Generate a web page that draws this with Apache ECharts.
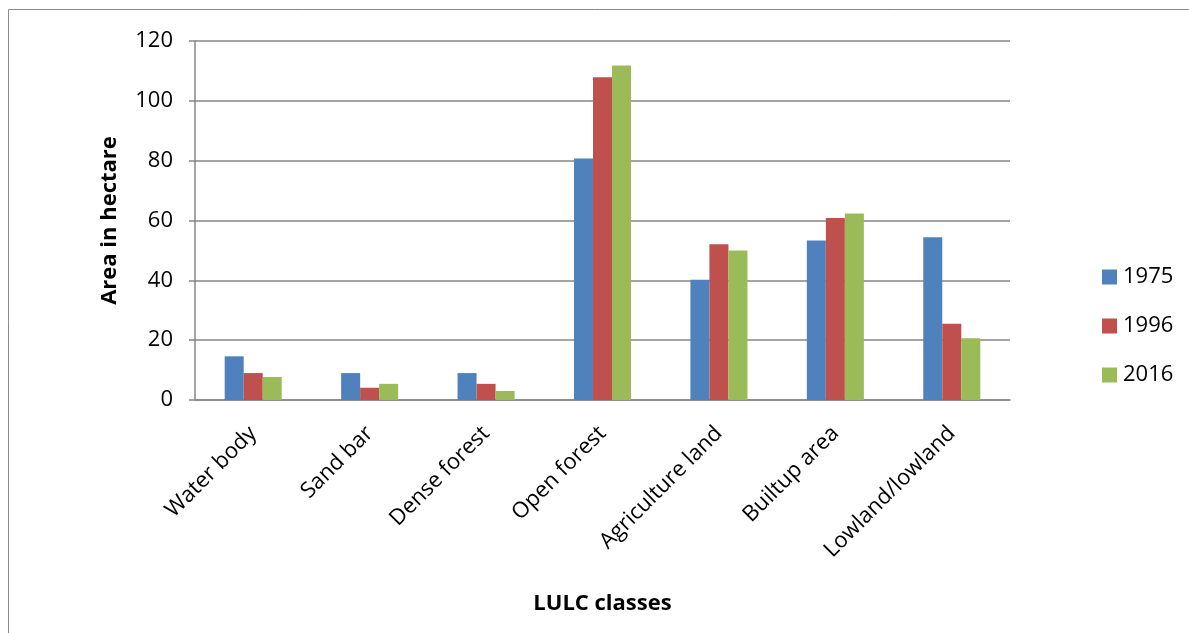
<!DOCTYPE html>
<html>
<head>
<meta charset="utf-8">
<script src="https://cdn.jsdelivr.net/npm/echarts@6/dist/echarts.min.js"></script>
<style>
html,body{margin:0;padding:0;background:#fff;}
#chart{width:1189px;height:633px;}
</style>
</head>
<body>
<div id="chart"></div>
<script>
const categories = ['Water body','Sand bar','Dense forest','Open forest','Agriculture land','Builtup area','Lowland/lowland'];
const seriesNames = ['1975','1996','2016'];
const values1975 = [14.6, 9.0, 9.0, 80.7, 40.2, 53.3, 54.4];
const values1996 = [9.0, 4.1, 5.4, 107.9, 52.1, 60.8, 25.5];
const values2016 = [7.7, 5.4, 3.0, 111.8, 50.0, 62.3, 20.6];
const colors = ['#4F81BD','#C0504D','#9BBB59'];

const font = '"Open Sans", sans-serif';
const chart = echarts.init(document.getElementById('chart'));
const allValues = [values1975, values1996, values2016];
chart.setOption({
  animation: false,
  backgroundColor: '#fff',
  graphic: [{
    type: 'rect',
    shape: {x: 8.5, y: 9.5, width: 1200, height: 700},
    style: {fill: 'none', stroke: '#8a8a8a', lineWidth: 1},
    silent: true, z: -1
  }],
  grid: {left: 195, right: 179, top: 41, bottom: 233, containLabel: false},
  legend: {
    orient: 'vertical',
    left: 1097, top: 261,
    itemWidth: 15, itemHeight: 15, itemGap: 27,
    icon: 'rect',
    textStyle: {fontFamily: font, fontSize: 22, color: '#000', padding: [0,0,0,1]},
    data: seriesNames
  },
  xAxis: {
    type: 'category',
    data: categories,
    name: 'LULC classes',
    nameLocation: 'middle',
    nameGap: 193,
    nameTextStyle: {fontFamily: font, fontSize: 22, fontWeight: 'bold', color: '#000'},
    axisLine: {lineStyle: {color: '#868686', width: 1.5}},
    axisTick: {show: false},
    axisLabel: {rotate: 45, margin: 30, fontFamily: font, fontSize: 22, color: '#000', interval: 0}
  },
  yAxis: {
    type: 'value',
    min: 0, max: 120, interval: 20,
    name: 'Area in hectare',
    nameLocation: 'middle',
    nameGap: 74,
    nameTextStyle: {fontFamily: font, fontSize: 22, fontWeight: 'bold', color: '#000'},
    axisLine: {show: true, lineStyle: {color: '#868686', width: 1.5}},
    axisTick: {show: true, inside: false, length: 6, lineStyle: {color: '#868686', width: 1.5}},
    axisLabel: {margin: 22, fontFamily: font, fontSize: 22, color: '#000'},
    splitLine: {lineStyle: {color: '#868686', width: 1.5}}
  },
  series: seriesNames.map((n, i) => ({
    name: n,
    type: 'bar',
    data: allValues[i],
    barGap: '0%',
    barCategoryGap: '51%',
    itemStyle: {color: colors[i]}
  }))
});
</script>
</body>
</html>
